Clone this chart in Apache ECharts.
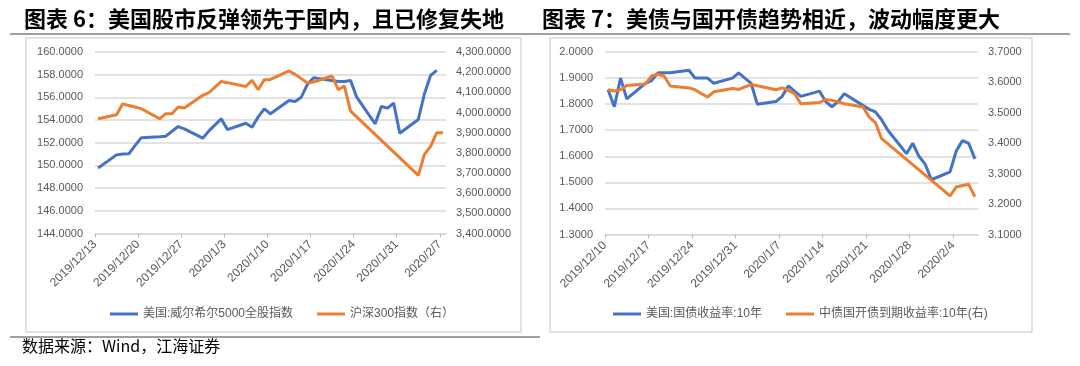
<!DOCTYPE html>
<html>
<head>
<meta charset="utf-8">
<script src="https://cdn.jsdelivr.net/npm/echarts@6/dist/echarts.min.js"></script>
<style>
html, body { margin: 0; padding: 0; background: #fff; }
#main { width: 1080px; height: 366px; }
</style>
</head>
<body>
<div id="main"></div>
<script>
// chart 6: stocks
var stockStart = '2019/12/13';
var stockTicks = ['2019/12/13', '2019/12/20', '2019/12/27', '2020/1/3', '2020/1/10', '2020/1/17', '2020/1/24', '2020/1/31', '2020/2/7'];
var wilshireDates = ['2019/12/13', '2019/12/16', '2019/12/17', '2019/12/18', '2019/12/19', '2019/12/20', '2019/12/23', '2019/12/24',
    '2019/12/26', '2019/12/27', '2019/12/30', '2019/12/31', '2020/1/2', '2020/1/3', '2020/1/6', '2020/1/7', '2020/1/8', '2020/1/9',
    '2020/1/10', '2020/1/13', '2020/1/14', '2020/1/15', '2020/1/16', '2020/1/17', '2020/1/21', '2020/1/22', '2020/1/23', '2020/1/24',
    '2020/1/27', '2020/1/28', '2020/1/29', '2020/1/30', '2020/1/31', '2020/2/3', '2020/2/4', '2020/2/5', '2020/2/6'];
var wilshireValues = [149.78, 150.93, 151.01, 151.03, 151.75, 152.43, 152.52, 152.58, 153.43, 153.22, 152.40, 153.05, 154.11, 153.16,
    153.72, 153.37, 154.28, 154.99, 154.55, 155.73, 155.64, 156.02, 157.14, 157.73, 157.40, 157.40, 157.50, 156.02, 153.67, 155.20,
    155.05, 155.49, 152.84, 154.05, 156.32, 157.94, 158.38];
var csi300Dates = ['2019/12/13', '2019/12/16', '2019/12/17', '2019/12/18', '2019/12/19', '2019/12/20', '2019/12/23', '2019/12/24',
    '2019/12/25', '2019/12/26', '2019/12/27', '2019/12/30', '2019/12/31', '2020/1/2', '2020/1/3', '2020/1/6', '2020/1/7', '2020/1/8',
    '2020/1/9', '2020/1/10', '2020/1/13', '2020/1/14', '2020/1/15', '2020/1/16', '2020/1/17', '2020/1/20', '2020/1/21', '2020/1/22',
    '2020/1/23', '2020/2/3', '2020/2/4', '2020/2/5', '2020/2/6', '2020/2/7'];
var csi300Values = [3969, 3989, 4043, 4035, 4027, 4019, 3969, 3994, 3994, 4027, 4022, 4085, 4098, 4154, 4148, 4129, 4159, 4113,
    4163, 4164, 4206, 4189, 4168, 4146, 4151, 4181, 4113, 4131, 4007, 3688, 3792, 3832, 3900, 3900];

// chart 7: bonds
var bondStart = '2019/12/10';
var bondTicks = ['2019/12/10', '2019/12/17', '2019/12/24', '2019/12/31', '2020/1/7', '2020/1/14', '2020/1/21', '2020/1/28', '2020/2/4'];
var ustDates = ['2019/12/10', '2019/12/11', '2019/12/12', '2019/12/13', '2019/12/16', '2019/12/17', '2019/12/18', '2019/12/19',
    '2019/12/20', '2019/12/23', '2019/12/24', '2019/12/26', '2019/12/27', '2019/12/30', '2019/12/31', '2020/1/2', '2020/1/3',
    '2020/1/6', '2020/1/7', '2020/1/8', '2020/1/9', '2020/1/10', '2020/1/13', '2020/1/14', '2020/1/15', '2020/1/16', '2020/1/17',
    '2020/1/21', '2020/1/22', '2020/1/23', '2020/1/24', '2020/1/27', '2020/1/28', '2020/1/29', '2020/1/30', '2020/1/31',
    '2020/2/3', '2020/2/4', '2020/2/5', '2020/2/6', '2020/2/7'];
var ustValues = [1.855, 1.79, 1.90, 1.82, 1.88, 1.89, 1.92, 1.92, 1.92, 1.93, 1.90, 1.90, 1.88, 1.90, 1.92, 1.88, 1.80,
    1.81, 1.83, 1.87, 1.85, 1.83, 1.85, 1.81, 1.79, 1.81, 1.84, 1.78, 1.77, 1.74, 1.70, 1.61, 1.65, 1.60, 1.57, 1.51,
    1.54, 1.62, 1.66, 1.65, 1.59];
var cdbDates = ['2019/12/10', '2019/12/11', '2019/12/12', '2019/12/13', '2019/12/16', '2019/12/17', '2019/12/18', '2019/12/19',
    '2019/12/20', '2019/12/23', '2019/12/24', '2019/12/25', '2019/12/26', '2019/12/27', '2019/12/30', '2019/12/31', '2020/1/2',
    '2020/1/3', '2020/1/6', '2020/1/7', '2020/1/8', '2020/1/9', '2020/1/10', '2020/1/13', '2020/1/14', '2020/1/15', '2020/1/16',
    '2020/1/17', '2020/1/20', '2020/1/21', '2020/1/22', '2020/1/23', '2020/2/3', '2020/2/4', '2020/2/5', '2020/2/6', '2020/2/7'];
var cdbValues = [3.576, 3.572, 3.576, 3.590, 3.595, 3.621, 3.627, 3.621, 3.588, 3.582, 3.576, 3.563, 3.552, 3.569, 3.580,
    3.577, 3.593, 3.589, 3.576, 3.582, 3.574, 3.563, 3.530, 3.534, 3.544, 3.541, 3.536, 3.530, 3.519, 3.486, 3.468, 3.415,
    3.227, 3.256, 3.261, 3.265, 3.224];

var blue = '#4472C4';
var orange = '#ED7D31';
var labelColor = '#595959';
var gridColor = '#d9d9d9';

function dayNo(s, start) {
    var a = s.split('/'), b = start.split('/');
    return (Date.UTC(+a[0], a[1] - 1, +a[2]) - Date.UTC(+b[0], b[1] - 1, +b[2])) / 864e5;
}

// excel date axis puts each point in the middle of its day
function toPoints(dates, values, start) {
    return dates.map(function(d, i) {
        return [dayNo(d, start) + 0.5, values[i]];
    });
}

function withComma(v) {
    return v.toLocaleString('en-US', { minimumFractionDigits: 4, maximumFractionDigits: 4 });
}

function dateAxis(gridIndex, ticks, start) {
    var tickDays = ticks.map(function(t) { return dayNo(t, start); });
    return {
        type: 'value',
        gridIndex: gridIndex,
        min: 0,
        max: tickDays[tickDays.length - 1] + (start === stockStart ? 1 : 4),
        interval: 7,
        axisLine: { show: true, lineStyle: { color: gridColor, width: 1.5 } },
        axisTick: { show: true, customValues: tickDays, length: 4, lineStyle: { color: '#bfbfbf' } },
        axisLabel: {
            customValues: tickDays,
            rotate: 45,
            fontSize: 12,
            color: labelColor,
            margin: 9,
            formatter: function(v) {
                var i = tickDays.indexOf(v);
                return i < 0 ? '' : ticks[i];
            }
        },
        splitLine: { show: false }
    };
}

function valueAxis(gridIndex, pos, min, max, interval, fmt, grid) {
    return {
        type: 'value',
        gridIndex: gridIndex,
        position: pos,
        min: min,
        max: max,
        interval: interval,
        axisLine: { show: false },
        axisTick: { show: false },
        axisLabel: { color: labelColor, fontSize: 11, margin: pos === 'left' ? 12 : 10, formatter: fmt },
        splitLine: { show: grid, lineStyle: { color: gridColor, width: 1.5 } }
    };
}

function lineSeries(name, xIdx, yIdx, color, data) {
    return {
        name: name,
        type: 'line',
        xAxisIndex: xIdx,
        yAxisIndex: yIdx,
        showSymbol: false,
        symbol: 'none',
        color: color,
        lineStyle: { width: 3, color: color },
        data: data
    };
}

var fix4 = function(v) { return v.toFixed(4); };

var chart = echarts.init(document.getElementById('main'));
chart.setOption({
    animation: false,
    textStyle: { fontFamily: '"Liberation Sans", "Noto Sans CJK SC", sans-serif' },
    grid: [
        { left: 95, top: 52, width: 351, height: 181.5 },
        { left: 605, top: 52, width: 373, height: 182.5 }
    ],
    xAxis: [
        dateAxis(0, stockTicks, stockStart),
        dateAxis(1, bondTicks, bondStart)
    ],
    yAxis: [
        valueAxis(0, 'left', 144, 160, 2, fix4, true),
        valueAxis(0, 'right', 3400, 4300, 100, withComma, false),
        valueAxis(1, 'left', 1.3, 2.0, 0.1, fix4, true),
        valueAxis(1, 'right', 3.1, 3.7, 0.1, fix4, false)
    ],
    legend: [
        {
            left: 105, top: 303, icon: 'rect', itemWidth: 28, itemHeight: 3, itemGap: 24,
            textStyle: { fontSize: 12, color: labelColor },
            data: ['美国:威尔希尔5000全股指数', '沪深300指数（右）']
        },
        {
            left: 608, top: 303, icon: 'rect', itemWidth: 28, itemHeight: 3, itemGap: 24,
            textStyle: { fontSize: 12, color: labelColor },
            data: ['美国:国债收益率:10年', '中债国开债到期收益率:10年(右)']
        }
    ],
    series: [
        lineSeries('美国:威尔希尔5000全股指数', 0, 0, blue, toPoints(wilshireDates, wilshireValues, stockStart)),
        lineSeries('沪深300指数（右）', 0, 1, orange, toPoints(csi300Dates, csi300Values, stockStart)),
        lineSeries('美国:国债收益率:10年', 1, 2, blue, toPoints(ustDates, ustValues, bondStart)),
        lineSeries('中债国开债到期收益率:10年(右)', 1, 3, orange, toPoints(cdbDates, cdbValues, bondStart))
    ],
    graphic: [
        { type: 'text', left: 24, top: 8, style: { text: '图表 6：美国股市反弹领先于国内，且已修复失地', font: 'bold 22px "Noto Sans CJK SC"', fill: '#000' } },
        { type: 'text', left: 542, top: 8, style: { text: '图表 7：美债与国开债趋势相近，波动幅度更大', font: 'bold 22px "Noto Sans CJK SC"', fill: '#000' } },
        { type: 'line', shape: { x1: 10, y1: 34, x2: 1070, y2: 34 }, style: { stroke: '#404040', lineWidth: 1 } },
        { type: 'rect', shape: { x: 26, y: 38, width: 495, height: 294 }, style: { fill: 'none', stroke: gridColor, lineWidth: 1.5 } },
        { type: 'rect', shape: { x: 550, y: 38, width: 482, height: 294 }, style: { fill: 'none', stroke: gridColor, lineWidth: 1.5 } },
        { type: 'line', shape: { x1: 10, y1: 337, x2: 540, y2: 337 }, style: { stroke: '#404040', lineWidth: 1 } },
        { type: 'text', left: 22, top: 338, style: { text: '数据来源：Wind，江海证券', font: '16px "Noto Sans CJK SC"', fill: '#000' } }
    ]
});
</script>
</body>
</html>
